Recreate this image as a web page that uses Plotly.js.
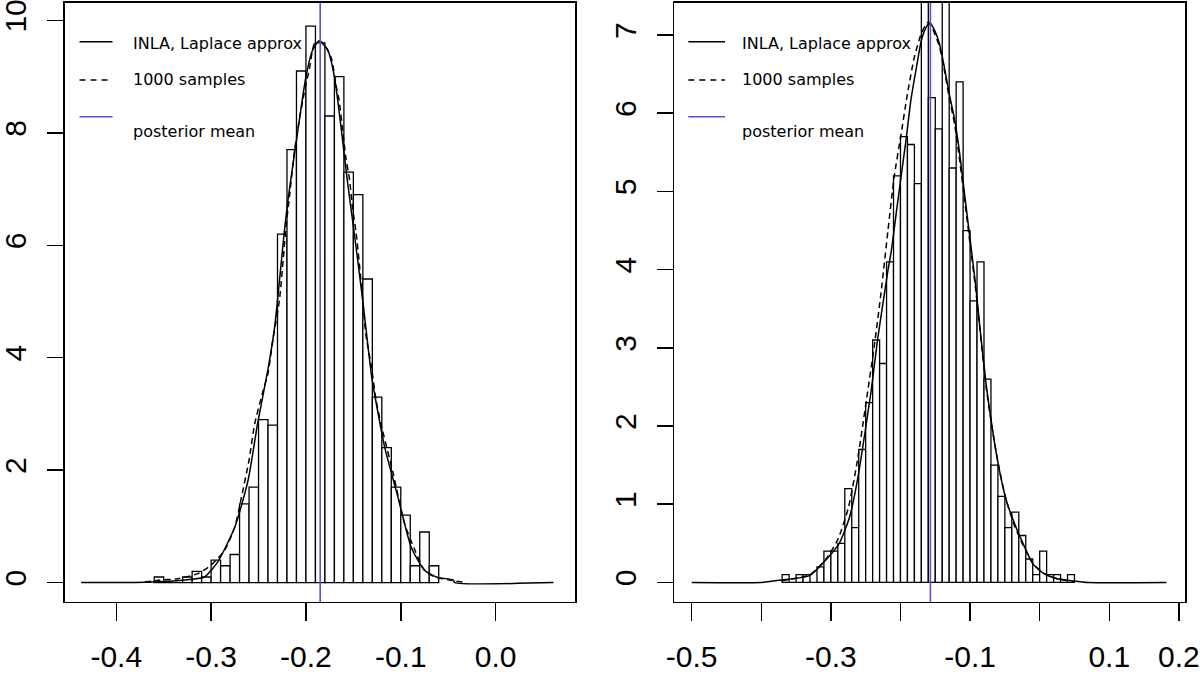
<!DOCTYPE html>
<html>
<head>
<meta charset="utf-8">
<script src="https://cdn.plot.ly/plotly-3.0.1.min.js"></script>
<style>html,body{margin:0;padding:0;background:#fff;}#chart{width:1200px;height:678px;}</style>
</head>
<body>
<div id="chart"></div>
<script>
// ---------- Left panel data ----------
const leftBinEdges = [-0.36,-0.35,-0.34,-0.33,-0.32,-0.31,-0.30,-0.29,-0.28,-0.27,-0.26,-0.25,-0.24,-0.23,-0.22,-0.21,-0.20,-0.19,-0.18,-0.17,-0.16,-0.15,-0.14,-0.13,-0.12,-0.11,-0.10,-0.09,-0.08,-0.07];
const leftDensity = [0.1,0,0,0.1,0.2,0.1,0.4,0.3,0.5,1.4,1.7,2.9,2.8,6.2,7.7,9.1,9.9,9.6,8.3,9.0,7.3,6.9,5.4,3.3,2.4,1.7,1.2,0.3,0.9,0.3];
const leftLaplaceX = [-0.437,-0.38,-0.36,-0.34,-0.32,-0.307,-0.293,-0.275,-0.261,-0.251,-0.240,-0.233,-0.223,-0.219,-0.210,-0.200,-0.193,-0.186,-0.177,-0.170,-0.163,-0.156,-0.149,-0.140,-0.131,-0.126,-0.117,-0.103,-0.089,-0.075,-0.061,-0.045,-0.043,0.061];
const leftLaplaceY = [0,0,0.01,0.03,0.06,0.1,0.37,0.99,1.82,2.83,3.8,4.55,6.21,6.8,7.87,9.0,9.47,9.64,9.47,9.0,8.1,7.1,6.21,5.0,3.7,3.2,2.41,1.52,0.63,0.22,0.09,0.05,0,0];
const leftSampleX = [-0.37,-0.356,-0.335,-0.314,-0.300,-0.286,-0.275,-0.268,-0.260,-0.254,-0.246,-0.240,-0.235,-0.228,-0.221,-0.217,-0.212,-0.207,-0.202,-0.196,-0.191,-0.184,-0.179,-0.173,-0.168,-0.165,-0.161,-0.158,-0.154,-0.151,-0.147,-0.140,-0.137,-0.131,-0.126,-0.121,-0.108,-0.096,-0.085,-0.075,-0.064,-0.047,-0.035];
const leftSampleY = [0.01,0.04,0.07,0.16,0.31,0.57,0.99,1.52,2.18,2.83,3.36,3.72,4.31,5.02,6.33,6.92,7.69,8.23,8.7,9.17,9.59,9.62,9.53,9.32,8.82,8.58,7.99,7.57,7.16,6.68,6.21,5.02,4.43,3.84,3.24,2.83,1.94,1.05,0.57,0.22,0.1,0.04,0.01];
const leftMean = -0.185;
const leftXTicks = [-0.4,-0.3,-0.2,-0.1,0.0];
const leftXTickText = ["-0.4","-0.3","-0.2","-0.1","0.0"];
const leftYTicks = [0,2,4,6,8,10];

// ---------- Right panel data ----------
const rightBinEdges = [-0.37,-0.36,-0.35,-0.34,-0.33,-0.32,-0.31,-0.30,-0.29,-0.28,-0.27,-0.26,-0.25,-0.24,-0.23,-0.22,-0.21,-0.20,-0.19,-0.18,-0.17,-0.16,-0.15,-0.14,-0.13,-0.12,-0.11,-0.10,-0.09,-0.08,-0.07,-0.06,-0.05,-0.04,-0.03,-0.02,-0.01,0.00,0.01,0.02,0.03,0.04];
const rightDensity = [0.1,0,0.1,0.1,0,0.2,0.4,0.4,0.5,1.2,0.7,1.7,2.3,3.1,2.8,4.1,5.2,5.7,5.6,5.1,8.1,6.2,5.8,8.2,5.3,6.4,4.5,3.6,4.1,2.6,1.5,1.1,0.7,0.9,0.6,0.3,0.1,0.4,0.1,0.1,0,0.1];
const rightLaplaceX = [-0.5,-0.40,-0.371,-0.330,-0.307,-0.288,-0.273,-0.261,-0.252,-0.242,-0.233,-0.226,-0.218,-0.213,-0.205,-0.199,-0.192,-0.185,-0.177,-0.170,-0.163,-0.158,-0.151,-0.144,-0.137,-0.130,-0.122,-0.115,-0.108,-0.101,-0.092,-0.086,-0.077,-0.067,-0.058,-0.048,-0.036,-0.024,-0.010,0.005,0.024,0.048,0.07,0.182];
const rightLaplaceY = [0,0,0.03,0.09,0.29,0.5,0.84,1.35,1.86,2.46,3.1,3.52,3.99,4.25,4.8,5.2,5.66,6.17,6.59,6.93,7.1,7.16,7.06,6.89,6.59,6.25,5.91,5.49,4.97,4.46,3.8,3.27,2.54,1.91,1.44,1.05,0.75,0.5,0.24,0.12,0.05,0.02,0,0];
const rightSampleX = [-0.371,-0.33,-0.307,-0.29,-0.275,-0.262,-0.249,-0.238,-0.228,-0.218,-0.209,-0.199,-0.190,-0.180,-0.170,-0.161,-0.155,-0.144,-0.137,-0.130,-0.122,-0.115,-0.108,-0.101,-0.092,-0.086,-0.077,-0.067,-0.058,-0.048,-0.036,-0.024,-0.010,0.005,0.024,0.05];
const rightSampleY = [0.02,0.1,0.3,0.55,0.95,1.55,2.33,3.0,3.7,4.5,5.19,5.74,6.25,6.72,7.02,7.16,7.1,6.85,6.55,6.2,5.85,5.4,4.9,4.4,3.75,3.25,2.5,1.9,1.45,1.05,0.72,0.48,0.25,0.12,0.05,0.01];
const rightMean = -0.157;
const rightXTicks = [-0.5,-0.4,-0.3,-0.2,-0.1,0.0,0.1,0.2];
const rightXTickText = ["-0.5","","-0.3","","-0.1","","0.1","0.2"];
const rightYTicks = [0,1,2,3,4,5,6,7];

// ---------- Legend text ----------
const legendLabels = ["INLA, Laplace approx", "1000 samples", "posterior mean"];

const meanColor = "#5f4fc8";
const tickFontFamily = "Liberation Sans, Arial, sans-serif";
const legendFontFamily = "DejaVu Sans, Verdana, sans-serif";

function histTrace(edges, dens, xa, ya) {
  return {type:'bar', x:edges, y:dens, offset:0, width:edges.map(()=>0.01),
    marker:{color:'#ffffff', line:{color:'#000000', width:1.3}},
    xaxis:xa, yaxis:ya, hoverinfo:'skip', showlegend:false};
}
function lineTrace(xs, ys, dash, xa, ya) {
  return {type:'scatter', mode:'lines', x:xs, y:ys,
    line:{color:'#000000', width:1.5, dash:dash, shape:'spline', smoothing:0.6},
    xaxis:xa, yaxis:ya, hoverinfo:'skip', showlegend:false};
}

const data = [
  histTrace(leftBinEdges, leftDensity, 'x', 'y'),
  lineTrace(leftLaplaceX, leftLaplaceY, 'solid', 'x', 'y'),
  lineTrace(leftSampleX, leftSampleY, '6px,4px', 'x', 'y'),
  histTrace(rightBinEdges, rightDensity, 'x2', 'y2'),
  lineTrace(rightLaplaceX, rightLaplaceY, 'solid', 'x2', 'y2'),
  lineTrace(rightSampleX, rightSampleY, '6px,4px', 'x2', 'y2')
];

function xaxisDef(domain, range, tv, tt, anchor) {
  return {domain:domain, range:range, anchor:anchor, tickmode:'array', tickvals:tv, ticktext:tt,
    ticks:'outside', ticklen:18, tickwidth:1.5, tickcolor:'#000',
    showline:true, mirror:true, linecolor:'#000', linewidth:1.5,
    showgrid:false, zeroline:false, ticklabelstandoff:10, ticklabeloverflow:'allow',
    tickfont:{family:tickFontFamily, size:30, color:'#000'}};
}
function yaxisDef(domain, range, tv, anchor) {
  return {domain:domain, range:range, anchor:anchor, tickmode:'array', tickvals:tv,
    ticktext:tv.map(String),
    ticks:'outside', ticklen:16, tickwidth:1.5, tickcolor:'#000',
    showline:true, mirror:true, linecolor:'#000', linewidth:1.5,
    showgrid:false, zeroline:false, tickangle:-90, ticklabelstandoff:9, ticklabeloverflow:'allow',
    tickfont:{family:tickFontFamily, size:30, color:'#000'}};
}

const yDom = [0.1121, 0.9956];
const layout = {
  width:1200, height:678, margin:{l:0,r:0,t:0,b:0},
  paper_bgcolor:'#fff', plot_bgcolor:'#fff', showlegend:false, barmode:'overlay',
  xaxis: xaxisDef([0.05375,0.47917], [-0.4546,0.0837], leftXTicks, leftXTickText, 'y'),
  yaxis: yaxisDef(yDom, [-0.345,10.31], leftYTicks, 'x'),
  xaxis2: xaxisDef([0.56167,0.9875], [-0.5254,0.2088], rightXTicks, rightXTickText, 'y2'),
  yaxis2: yaxisDef(yDom, [-0.25,7.41], rightYTicks, 'x2'),
  shapes: [],
  annotations: []
};

function addLegend(xa, ya, meanX, lx0, lx1, tx) {
  const xr = xa + ' domain', yr = ya + ' domain';
  layout.shapes.push({type:'line', xref:xa, yref:yr, x0:meanX, x1:meanX, y0:0, y1:1,
    line:{color:meanColor, width:1.6}, layer:'above'});
  layout.shapes.push({type:'line', xref:xr, yref:yr, x0:lx0, x1:lx1, y0:0.9354, y1:0.9354, line:{color:'#000', width:1.5}});
  layout.shapes.push({type:'line', xref:xr, yref:yr, x0:lx0, x1:lx1, y0:0.8715, y1:0.8715, line:{color:'#000', width:1.5, dash:'6px,5px'}});
  layout.shapes.push({type:'line', xref:xr, yref:yr, x0:lx0, x1:lx1, y0:0.8102, y1:0.8102, line:{color:meanColor, width:1.5}});
  const ys = [0.9316, 0.8715, 0.7851];
  legendLabels.forEach((t,i)=>{
    layout.annotations.push({xref:xr, yref:yr, x:tx, y:ys[i], text:t, showarrow:false,
      xanchor:'left', yanchor:'middle', font:{family:legendFontFamily, size:16, color:'#000'}});
  });
}
addLegend('x','y', leftMean, 0.0294, 0.0941, 0.1308);
addLegend('x2','y2', rightMean, 0.028, 0.0998, 0.129);

Plotly.newPlot('chart', data, layout, {displayModeBar:false, staticPlot:true});
</script>
</body>
</html>
